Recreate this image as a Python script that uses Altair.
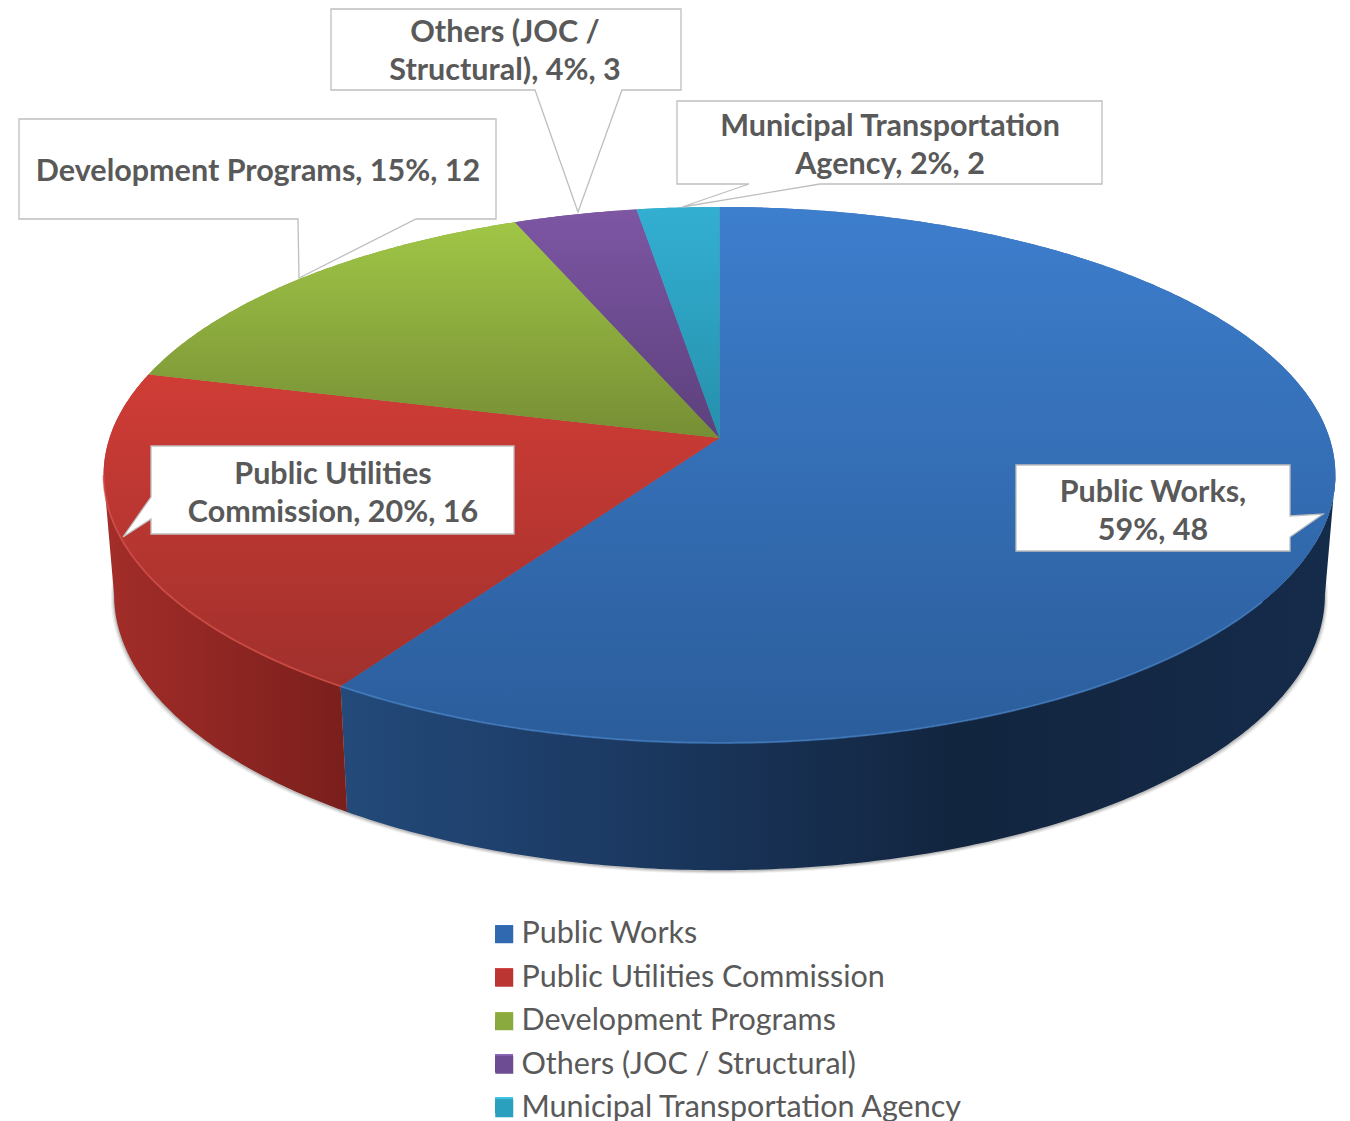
import numpy as np
import altair as alt

# ---- data ----
NAMES = ["Public Works", "Public Utilities Commission", "Development Programs",
         "Others (JOC / Structural)", "Municipal Transportation Agency"]
VALUES = [48, 16, 12, 3, 2]
BASE_COLORS = ["#3069b0", "#bb3632", "#8aa93e", "#6d4c93", "#2b9fbe"]
TOP_STOPS = [("#3d7ecd", "#2b5d9b"), ("#d03c36", "#a0302c"), ("#a0c646", "#768e35"),
             ("#7d56a4", "#5c407c"), ("#33afd2", "#2590ab")]
SWATCH_STOPS = [("#4a90de", "#24558f"), ("#e0504a", "#8f2824"), ("#c0dc52", "#6f8830"),
                ("#9068bb", "#4f3670"), ("#45c4e6", "#217f98")]
TEXT_COLOR = "#595959"
BOX_STROKE = "#bfbfbf"

# ---- layout (image pixels) ----
CX, CY, GAMMA, BETA, ALPHA, DELTA = 719.5, 475.0, 0.138, 37.0, 268.0, 610.0
BOT_SX, BOT_SY, BOT_CY = 0.983, 1.027, 595.0
PAGE = 8
W, H = 1334, 1105
LINE_BREAKS = {"Public Works": "Public Works,\n{}",
               "Public Utilities Commission": "Public Utilities\nCommission, {}",
               "Development Programs": "Development Programs, {}",
               "Others (JOC / Structural)": "Others (JOC /\nStructural), {}",
               "Municipal Transportation Agency": "Municipal Transportation\nAgency, {}"}
TEXT_POS = {"Public Works": (1153, 492.5), "Public Utilities Commission": (333, 474.5),
            "Development Programs": (258, 171.5), "Others (JOC / Structural)": (505, 32.5),
            "Municipal Transportation Agency": (890, 126.5)}
BOXES = [
    [(331, 9), (681, 9), (681, 90), (622, 90), (578, 212), (535, 90), (331, 90)],
    [(677, 101), (1102, 101), (1102, 184), (820, 184), (682, 207), (749, 184), (677, 184)],
    [(19, 119), (496, 119), (496, 219), (416, 219), (299, 278), (298, 219), (19, 219)],
    [(151, 446), (514, 446), (514, 534), (151, 534), (151, 519), (123, 537), (151, 497)],
    [(1016, 465), (1290, 465), (1290, 516), (1323, 514), (1290, 537), (1290, 551), (1016, 551)],
]
SWATCH_X, SWATCH_SIZE = 495, 18
SWATCH_TOPS = [925, 968, 1012, 1054, 1097]


def project(theta_deg, sx=1.0, sy=1.0, cy=CY):
    t = np.radians(np.asarray(theta_deg, dtype=float))
    X, Y = np.sin(t), np.cos(t)
    w = 1 + GAMMA * Y
    return CX + sx * DELTA * X / w, cy - sy * (ALPHA * Y + BETA) / w


def top(theta):
    return project(theta)


def bottom(theta):
    return project(theta, BOT_SX, BOT_SY, BOT_CY)


def feature(coords, name=None, line=False):
    c = [[float(a), float(b)] for a, b in coords]
    if not line and c[0] != c[-1]:
        c.append(c[0])
    geom = {"type": "LineString", "coordinates": c} if line else {"type": "Polygon", "coordinates": [c]}
    return {"type": "Feature", "geometry": geom, "properties": {"name": name or ""}}


PROJ = dict(type="identity", scale=1, translate=[-PAGE, -PAGE])


def shape(features, **mark):
    return alt.Chart(alt.Data(values=features)).mark_geoshape(**mark).project(**PROJ)


def vgrad(c0, c1):
    return alt.LinearGradient(gradient="linear", x1=0, x2=0, y1=0, y2=1,
                              stops=[alt.GradientStop(color=c0, offset=0),
                                     alt.GradientStop(color=c1, offset=1)])


def hgrad(stops):
    return alt.LinearGradient(gradient="linear", x1=0, x2=1, y1=0, y2=0,
                              stops=[alt.GradientStop(color=c, offset=o) for o, c in stops])


total = sum(VALUES)
edges = np.concatenate([[0], np.cumsum(VALUES)]) / total * 360.0
arcs = [np.linspace(edges[i], edges[i + 1], max(int(edges[i + 1] - edges[i]) * 2, 4)) for i in range(len(VALUES))]
apex = (float(project(0)[0]), CY - BETA)
# angles at which the rim reaches its widest point (silhouette of the cylinder)
RIGHT_EXT = float(np.degrees(np.arccos(-GAMMA)))
LEFT_EXT = 360.0 - RIGHT_EXT

layers = []

# soft shadow hugging the lower rim
th = np.linspace(0, 360, 361)
for dsx, dcy, op in [(0.005, 3.5, 0.12), (0.003, 2.5, 0.18), (0.0015, 1.5, 0.30)]:
    x, y = project(th, BOT_SX + dsx, BOT_SY, BOT_CY + dcy)
    layers.append(shape([feature(zip(x, y))], fill="#7f7f7f", opacity=op, strokeWidth=0))


def wall(a):
    xa, ya = top(a)
    xb, yb = bottom(a[::-1])
    return feature(list(zip(xa, ya)) + list(zip(xb, yb)))


# side walls
layers.append(shape([wall(np.linspace(RIGHT_EXT, edges[1], 200))], strokeWidth=0,
                    fill=hgrad([(0, "#234a7a"), (0.25, "#1c3b65"), (0.62, "#12253f"), (1, "#152b4a")])))
layers.append(shape([wall(np.linspace(edges[1], LEFT_EXT, 100))], strokeWidth=0,
                    fill=hgrad([(0, "#a32d29"), (1, "#7a1f1c")])))

# top face: flat base (carries the legend) and gradient overlay
wedges = []
for i, n in enumerate(NAMES):
    x, y = top(arcs[i])
    wedges.append(feature([apex] + list(zip(x, y)), n))

layers.append(
    shape(wedges, strokeWidth=0).encode(
        color=alt.Color("properties.name:N",
                        scale=alt.Scale(domain=NAMES, range=BASE_COLORS),
                        legend=alt.Legend(title=None, orient="none", legendX=481, legendY=911,
                                          symbolType="square", symbolSize=324, symbolStrokeWidth=0,
                                          labelFont="Lato", labelFontSize=30.5, labelColor=TEXT_COLOR,
                                          labelLimit=700, labelOffset=2, rowPadding=12.5,
                                          symbolOpacity=1, values=NAMES)))
)
for i in range(len(NAMES)):
    layers.append(shape([wedges[i]], strokeWidth=0, fill=vgrad(*TOP_STOPS[i])))

# bright front rim
xr, yr = top(np.linspace(edges[1], 262, 60))
layers.append(shape([feature(zip(xr, yr), line=True)], filled=False, stroke="#d9544d", strokeWidth=2, opacity=0.65))
xr, yr = top(np.linspace(125, edges[1], 120))
layers.append(shape([feature(zip(xr, yr), line=True)], filled=False, stroke="#4a86cc", strokeWidth=2, opacity=0.6))

# callout boxes
layers.append(shape([feature(b) for b in BOXES], fill="white", stroke=BOX_STROKE, strokeWidth=1.3))

# callout text
for n, v in zip(NAMES, VALUES):
    pct = round(v / total * 100)
    txt = LINE_BREAKS[n].format(f"{pct}%, {v}")
    px, py = TEXT_POS[n]
    layers.append(
        alt.Chart(alt.Data(values=[{"t": txt}]))
        .mark_text(font="Lato", fontWeight="bold", fontSize=30.5, color=TEXT_COLOR, align="center",
                   baseline="middle", lineBreak="\n", lineHeight=38)
        .encode(text="t:N", x=alt.value(px - PAGE), y=alt.value(py - PAGE))
    )

# bevelled legend swatches over the legend's own symbols
for i, t in enumerate(SWATCH_TOPS):
    sq = [(SWATCH_X, t), (SWATCH_X + SWATCH_SIZE, t), (SWATCH_X + SWATCH_SIZE, t + SWATCH_SIZE), (SWATCH_X, t + SWATCH_SIZE)]
    layers.append(shape([feature(sq)], fill=vgrad(*SWATCH_STOPS[i]), strokeWidth=0))

chart = (
    alt.layer(*layers)
    .properties(width=W, height=H, padding=0, background="white")
    .configure_view(stroke=None)
)
chart.save("out.html", embed_options={"renderer": "svg", "actions": False})
